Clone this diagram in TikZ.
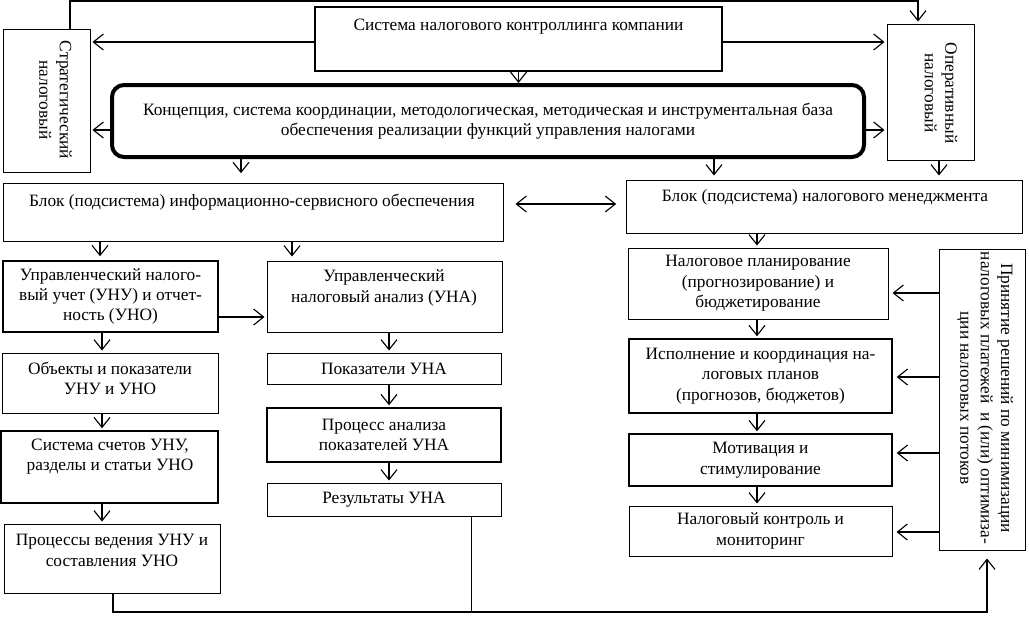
\documentclass[tikz,border=0pt]{standalone}
\usepackage{fontspec}
\setmainfont{Liberation Serif}
\usetikzlibrary{arrows.meta,positioning}
\tikzset{every picture/.style={line width=0.75pt}}
\tikzset{
  tcbox/.style={draw, rectangle, inner sep=2pt, align=center, font=\fontsize{13}{15.3}\selectfont},
  tcboxb/.style={tcbox, line width=1.1pt},
  tctxt/.style={align=center, inner sep=0pt, font=\fontsize{13}{15.3}\selectfont},
  tcarr/.style={-{Straight Barb[length=7.5pt,width=12pt]}, line width=0.85pt, shorten >=1.5pt},
  tcdarr/.style={{Straight Barb[length=7.5pt,width=12pt]}-{Straight Barb[length=7.5pt,width=12pt]}, line width=0.85pt}
}

\begin{document}
\begin{tikzpicture}[x=0.75pt, y=-0.75pt]
      \useasboundingbox (0,0) rectangle (1029,621);
      % top level
      \node[tcbox, minimum width=65.25pt, minimum height=107.25pt] (strat) at (46.5,100.5) {};
      \node[tcbox, minimum width=65.25pt, minimum height=102pt]    (oper)  at (930.5,92) {};
      \node[tcbox, line width=1.8pt, minimum width=305.25pt, minimum height=48pt] (sys) at (518.5,39) {};
      \node[tcbox, line width=3pt, rounded corners=9pt, minimum width=564pt, minimum height=54pt] (concept) at (488,121)
        {Концепция, система координации, методологическая, методическая и инструментальная база\\
         обеспечения реализации функций управления налогами};
      \node[tctxt, rotate=-90] (strat-t) at (55.5,100) {Стратегический\\налоговый};
      \node[tctxt, rotate=-90] (oper-t)  at (941,93)   {Оперативный\\налоговый};
      \node[tctxt] (sys-t) at (518.5,27) {Система налогового контроллинга компании};
      % blocks
      \node[tcbox, minimum width=375pt, minimum height=43.5pt]  (info) at (253,212) {};
      \node[tcbox, minimum width=297pt, minimum height=39.75pt] (mgmt) at (824,206.5) {};
      \node[tctxt] (info-t) at (252,202) {Блок (подсистема) информационно-сервисного обеспечения};
      \node[tctxt] (mgmt-t) at (825,197) {Блок (подсистема) налогового менеджмента};
      % left column
      \node[tcboxb, minimum width=161.25pt, minimum height=53.25pt] (unu) at (110.5,296.5)
        {Управленческий налого-\\вый учет (УНУ) и отчет-\\ность (УНО)};
      \node[tcbox,  minimum width=162pt,    minimum height=45pt]    (obj)  at (110,383) {};
      \node[tcboxb, minimum width=162.75pt, minimum height=54pt]    (sch)  at (109.5,467) {};
      \node[tcbox,  minimum width=162pt,    minimum height=51.75pt] (proc) at (112,558.5) {};
      \node[tctxt] (obj-t)  at (110,378.5) {Объекты и показатели\\УНУ и УНО};
      \node[tctxt] (sch-t)  at (110,456.5) {Система счетов УНУ,\\разделы и статьи УНО};
      \node[tctxt] (proc-t) at (112,550.5) {Процессы ведения УНУ и\\составления УНО};
      % middle column
      \node[tcbox,  minimum width=176.25pt, minimum height=53.25pt] (una) at (384.5,296.5) {};
      \node[tctxt] (una-t) at (384,288) {Управленческий\\налоговый анализ (УНА)};
      \node[tcbox,  minimum width=175.5pt, minimum height=23.25pt] (pok) at (384,368.5) {Показатели УНА};
      \node[tcboxb, minimum width=175.5pt, minimum height=40.5pt]  (pan) at (384,435) {Процесс анализа\\показателей УНА};
      \node[tcbox,  minimum width=175.5pt, minimum height=24.75pt] (res) at (384,499.5) {Результаты УНА};
      % right column
      \node[tcbox,  minimum width=195pt,    minimum height=53.25pt] (plan) at (758,283.5)
        {Налоговое планирование\\(прогнозирование) и\\бюджетирование};
      \node[tcboxb, minimum width=197.25pt, minimum height=55.5pt] (isp) at (760.5,376)
        {Исполнение и координация на-\\логовых планов\\(прогнозов, бюджетов)};
      \node[tcboxb, minimum width=197.25pt, minimum height=39pt]   (mot) at (760.5,460) {Мотивация и\\стимулирование};
      \node[tcbox,  minimum width=197.25pt, minimum height=37.5pt] (ctl) at (760.5,531) {Налоговый контроль и\\мониторинг};
      \node[tcbox, minimum width=64.5pt, minimum height=225.75pt] (dec) at (982,399.5) {};
      \node[tctxt, rotate=-90] (dec-t) at (985,398)
        {Принятие решений по минимизации\\налоговых платежей \ и (или) оптимиза-\\ции налоговых потоков};
      % helper coordinates
      \coordinate (xTopL) at (70,1);
      \coordinate (xTopR) at (918,1);
      \coordinate (ySys) at (0,42);
      \coordinate (yCon) at (0,130);
      \coordinate (xA) at (241,0);
      \coordinate (xB) at (714,0);
      \coordinate (xC) at (939,0);
      \coordinate (yBl) at (0,204);
      \coordinate (xD) at (100,0);
      \coordinate (xE) at (292,0);
      \coordinate (yUn) at (0,317);
      \coordinate (xF) at (102,0);
      \coordinate (xG) at (389,0);
      \coordinate (xH) at (757,0);
      \coordinate (bL) at (113,612);
      \coordinate (bM) at (471,612);
      \coordinate (bR) at (987,612);
      % connectors
      \draw[tcarr] (strat.north -| xTopL) -- (xTopL) -- (xTopR) -- (oper.north -| xTopR);
      \draw[tcarr] (sys.west |- ySys) -- (strat.east |- ySys);
      \draw[tcarr] (sys.east |- ySys) -- (oper.west |- ySys);
      \draw[tcarr, shorten >=0pt] (sys.south) -- (concept.north -| sys.south);
      \draw[tcarr] (concept.west |- yCon) -- (strat.east |- yCon);
      \draw[tcarr] (concept.east |- yCon) -- (oper.west |- yCon);
      \draw[tcarr, shorten >=7pt] (concept.south -| xA) -- (info.north -| xA);
      \draw[tcarr, shorten >=3pt] (concept.south -| xB) -- (mgmt.north -| xB);
      \draw[tcarr, shorten >=3pt] (oper.south -| xC) -- (mgmt.north -| xC);
      \draw[tcdarr, shorten <=9pt, shorten >=7pt] (info.east |- yBl) -- (mgmt.west |- yBl);
      \draw[tcarr, shorten >=3pt] (info.south -| xD) -- (unu.north -| xD);
      \draw[tcarr, shorten >=3pt] (info.south -| xE) -- (una.north -| xE);
      \draw[tcarr] (unu.east |- yUn) -- (una.west |- yUn);
      \foreach \a/\b in {unu/obj, obj/sch, sch/proc}
        \draw[tcarr] (\a.south -| xF) -- (\b.north -| xF);
      \foreach \a/\b in {una/pok, pok/pan, pan/res}
        \draw[tcarr] (\a.south -| xG) -- (\b.north -| xG);
      \foreach \a/\b in {mgmt/plan, plan/isp, isp/mot, mot/ctl}
        \draw[tcarr] (\a.south -| xH) -- (\b.north -| xH);
      \foreach \b/\y in {plan/293, isp/377, mot/453, ctl/532}
        \draw[tcarr, shorten >=3pt] (dec.west |- 0,\y) -- (\b.east |- 0,\y);
      \draw[tcarr, shorten >=6pt] (proc.south -| bL) -- (bL) -- (bR) -- (dec.south -| bR);
      \draw (res.south -| bM) -- (bM);
    \end{tikzpicture}
\end{document}
